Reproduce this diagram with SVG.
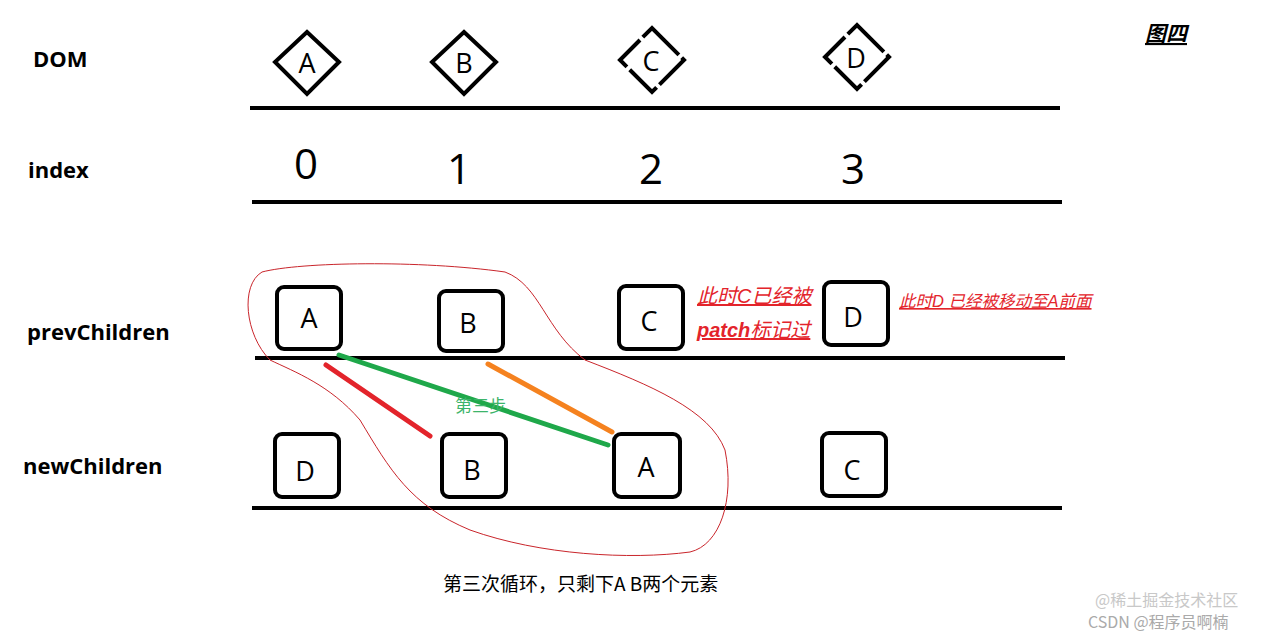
<svg xmlns="http://www.w3.org/2000/svg" width="1276" height="635" viewBox="0 0 1276 635">
<style>
.ln{stroke:#000;stroke-width:4;fill:none}
.bx{stroke:#000;stroke-width:4;fill:#fff}
.lb{font-family:"Open Sans","Noto Sans",sans-serif;font-size:22px;font-weight:bold;fill:#000}
.nt{font-family:"Open Sans","Noto Sans",sans-serif;font-size:27px;fill:#000;text-anchor:middle}
.ix{font-family:"Open Sans","Noto Sans",sans-serif;font-size:42px;fill:#000;text-anchor:middle}
.red{font-family:"Liberation Sans","Noto Sans CJK SC",sans-serif;font-style:italic;fill:#e3242b;text-decoration:underline}
</style>
<rect width="1276" height="635" fill="#fff"/>
<text class="lb" x="33" y="67">DOM</text>
<text class="lb" x="28" y="178">index</text>
<text class="lb" x="27" y="340">prevChildren</text>
<text class="lb" x="23" y="474">newChildren</text>
<text x="1145" y="41" font-family="Noto Sans CJK SC,sans-serif" font-size="21" font-weight="bold" font-style="italic" text-decoration="underline">图四</text>
<g id="lines">
<line class="ln" x1="250" y1="108" x2="1060" y2="108"/>
<line class="ln" x1="252" y1="202" x2="1062" y2="202"/>
<line class="ln" x1="255" y1="358" x2="1065" y2="358"/>
<line class="ln" x1="252" y1="508" x2="1062" y2="508"/>
</g>
<g id="dom-A"><polygon class="bx" points="307,32 339,62 307,94 275,62"/><text class="nt" x="307" y="73">A</text></g>
<g id="dom-B"><polygon class="bx" points="464,32 496,62 464,94 432,62"/><text class="nt" x="464" y="73">B</text></g>
<g id="dom-C"><polygon class="bx" points="652,28 684,60 652,92 620,60" stroke-dasharray="38 4"/><text class="nt" x="651" y="71">C</text></g>
<g id="dom-D"><polygon class="bx" points="857,25 889,57 857,89 825,57" stroke-dasharray="38 4"/><text class="nt" x="856" y="68">D</text></g>
<g id="index">
<text class="ix" x="306" y="179">0</text>
<text class="ix" x="459" y="184">1</text>
<text class="ix" x="651" y="184">2</text>
<text class="ix" x="853" y="184">3</text>
</g>
<path d="M262,272 C300,262 420,260 505,272 C540,285 545,330 585,360 C650,385 710,410 725,450 C735,500 720,545 690,552 C630,560 540,555 470,530 C410,505 390,470 360,420 C330,385 295,372 270,360 C245,335 240,285 262,272 Z" fill="none" stroke="#c9252b" stroke-width="1"/>
<g id="prev-A"><rect class="bx" x="277" y="287" width="64" height="62" rx="7"/><text class="nt" x="309" y="328">A</text></g>
<g id="prev-B"><rect class="bx" x="439" y="291" width="64" height="60" rx="7"/><text class="nt" x="468" y="333">B</text></g>
<g id="prev-C"><rect class="bx" x="619" y="286" width="64" height="63" rx="7"/><text class="nt" x="649" y="331">C</text></g>
<g id="prev-D"><rect class="bx" x="824" y="282" width="64" height="63" rx="7"/><text class="nt" x="853" y="327">D</text></g>
<g id="new-D"><rect class="bx" x="275" y="434" width="64" height="63" rx="7"/><text class="nt" x="305" y="481">D</text></g>
<g id="new-B"><rect class="bx" x="442" y="434" width="64" height="63" rx="7"/><text class="nt" x="472" y="480">B</text></g>
<g id="new-A"><rect class="bx" x="614" y="434" width="66" height="63" rx="7"/><text class="nt" x="646" y="477">A</text></g>
<g id="new-C"><rect class="bx" x="822" y="433" width="64" height="63" rx="7"/><text class="nt" x="852" y="480">C</text></g>
<g id="connectors" stroke-linecap="round" stroke-width="5">
<line x1="326" y1="365" x2="430" y2="436" stroke="#e3242b"/>
<line x1="339" y1="355" x2="608" y2="445" stroke="#1fa84a"/>
<line x1="488" y1="364" x2="612" y2="432" stroke="#f5821f"/>
</g>
<text x="455" y="412" font-family="Noto Sans CJK SC,sans-serif" font-size="17" fill="#3cb46a">第三步</text>
<text class="red" x="697" y="303" font-size="20">此时C已经被</text>
<text class="red" x="697" y="337" font-size="20" font-weight="bold">patch<tspan font-weight="normal">标记过</tspan></text>
<text class="red" x="899" y="307" font-size="16.5">此时D 已经被移动至A前面</text>
<text x="443" y="591" font-family="Noto Sans CJK SC,sans-serif" font-size="19">第三次循环，只剩下A B两个元素</text>
<text x="1095" y="606" font-family="Noto Sans CJK SC,sans-serif" font-size="16" fill="#c8c8c8">@稀土掘金技术社区</text>
<text x="1088" y="628" font-family="Noto Sans CJK SC,sans-serif" font-size="16" fill="#aaaaaa">CSDN @程序员啊楠</text>
</svg>
